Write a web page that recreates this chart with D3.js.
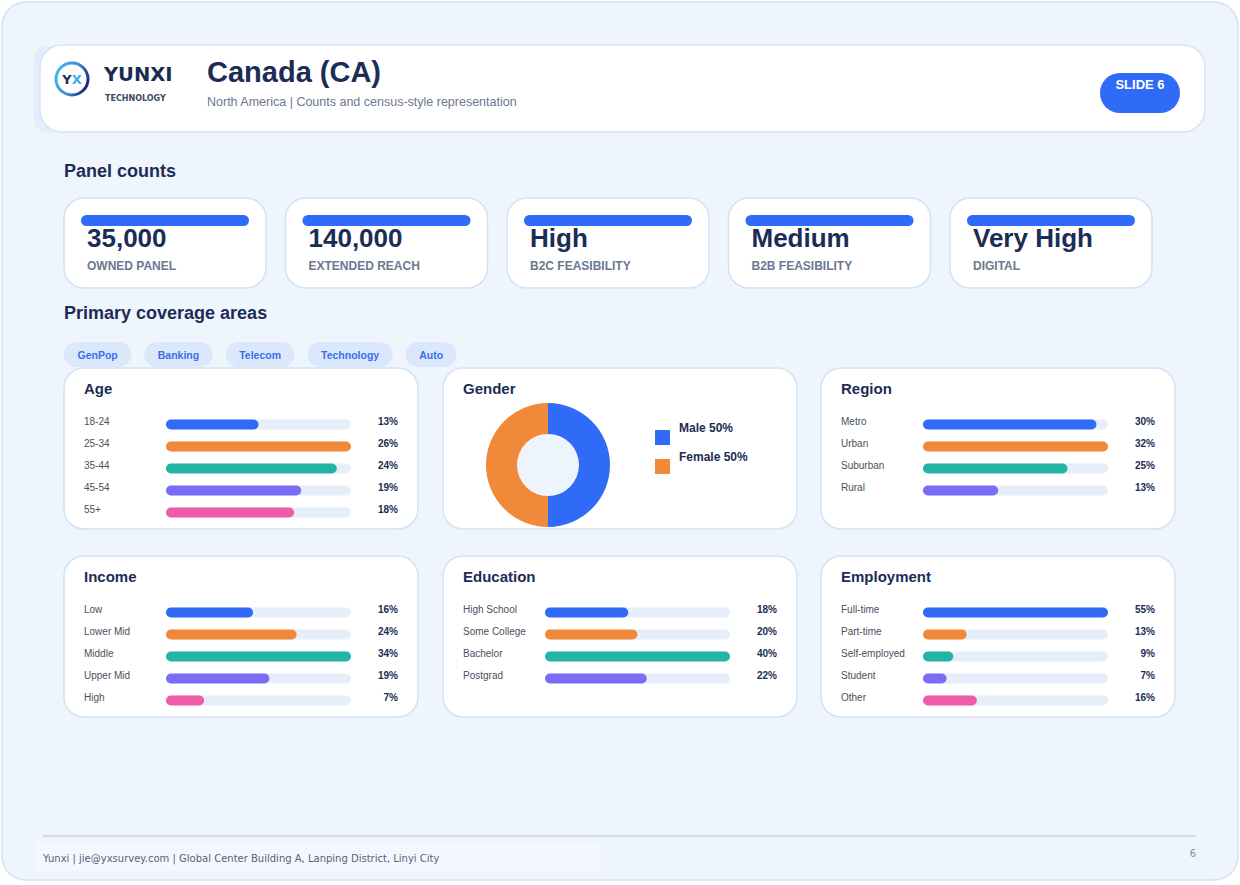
<!DOCTYPE html>
<html>
<head>
<meta charset="utf-8">
<script src="https://cdn.jsdelivr.net/npm/d3@7"></script>
<style>
  html, body { margin: 0; padding: 0; background: #ffffff; }
  svg { display: block; }
</style>
</head>
<body>
<script>
// data
var kpiValues = ["35,000", "140,000", "High", "Medium", "Very High"];
var kpiLabels = ["OWNED PANEL", "EXTENDED REACH", "B2C FEASIBILITY", "B2B FEASIBILITY", "DIGITAL"];
var coverageTags = ["GenPop", "Banking", "Telecom", "Technology", "Auto"];

var ageCategories = ["18-24", "25-34", "35-44", "45-54", "55+"];
var ageValues = [13, 26, 24, 19, 18];
var genderCategories = ["Male", "Female"];
var genderValues = [50, 50];
var regionCategories = ["Metro", "Urban", "Suburban", "Rural"];
var regionValues = [30, 32, 25, 13];
var incomeCategories = ["Low", "Lower Mid", "Middle", "Upper Mid", "High"];
var incomeValues = [16, 24, 34, 19, 7];
var educationCategories = ["High School", "Some College", "Bachelor", "Postgrad"];
var educationValues = [18, 20, 40, 22];
var employmentCategories = ["Full-time", "Part-time", "Self-employed", "Student", "Other"];
var employmentValues = [55, 13, 9, 7, 16];

// svg container
var width = 1240;
var height = 885;
var font = "'Liberation Sans', Arial, Helvetica, sans-serif";
var navy = "#1b2d55";
var palette = ["#2f6bf6", "#f08a3a", "#22b5a4", "#7a6cf7", "#ee5ba6"];

var svg = d3.select("body").append("svg")
    .attr("width", width)
    .attr("height", height)
    .style("font-family", font);

// page frame
svg.append("rect")
    .attr("width", width).attr("height", height)
    .attr("fill", "#ffffff");
svg.append("rect")
    .attr("x", 2).attr("y", 2)
    .attr("width", 1236).attr("height", 878)
    .attr("rx", 24)
    .attr("fill", "#eff5fd")
    .attr("stroke", "#d3e1f4")
    .attr("stroke-width", 1.5);

// header card
svg.append("rect")
    .attr("x", 34).attr("y", 46)
    .attr("width", 40).attr("height", 86)
    .attr("rx", 12)
    .attr("fill", "#e3edfb");
svg.append("rect")
    .attr("x", 40).attr("y", 45)
    .attr("width", 1165).attr("height", 87)
    .attr("rx", 22)
    .attr("fill", "#ffffff")
    .attr("stroke", "#d6e3f6")
    .attr("stroke-width", 1.5);

// logo
var defs = svg.append("defs");
var grad = defs.append("linearGradient")
    .attr("id", "ring")
    .attr("x1", "0%").attr("y1", "30%")
    .attr("x2", "100%").attr("y2", "70%");
grad.append("stop").attr("offset", "0%").attr("stop-color", "#3cb8f0");
grad.append("stop").attr("offset", "55%").attr("stop-color", "#3a8ad8");
grad.append("stop").attr("offset", "100%").attr("stop-color", "#1a2468");

var logo = svg.append("g").attr("transform", "translate(72,79)");
logo.append("circle")
    .attr("r", 16)
    .attr("fill", "none")
    .attr("stroke", "url(#ring)")
    .attr("stroke-width", 3);
var yx = logo.append("text")
    .attr("text-anchor", "middle")
    .attr("y", 5)
    .attr("font-size", 13)
    .attr("font-weight", "bold")
    .attr("font-family", "'DejaVu Sans', sans-serif");
yx.append("tspan").attr("fill", "#1c2a6a").text("Y");
yx.append("tspan").attr("fill", "#3cb0ee").text("X");
svg.append("text")
    .attr("x", 104).attr("y", 81)
    .attr("font-size", 19.5)
    .attr("font-weight", "bold")
    .attr("font-family", "'DejaVu Sans', sans-serif")
    .attr("fill", "#1a2b52")
    .text("YUNXI");
svg.append("text")
    .attr("x", 105).attr("y", 101)
    .attr("font-size", 8)
    .attr("font-weight", "bold")
    .attr("font-family", "'DejaVu Sans', sans-serif")
    .attr("fill", "#3b4a66")
    .text("TECHNOLOGY");

// title
svg.append("text")
    .attr("x", 207).attr("y", 82)
    .attr("font-size", 29)
    .attr("font-weight", "bold")
    .attr("fill", navy)
    .text("Canada (CA)");
svg.append("text")
    .attr("x", 207).attr("y", 106)
    .attr("font-size", 12.5)
    .attr("fill", "#6b7890")
    .text("North America | Counts and census-style representation");

// slide pill
svg.append("rect")
    .attr("x", 1100).attr("y", 73)
    .attr("width", 80).attr("height", 40)
    .attr("rx", 20)
    .attr("fill", "#2f6bf6");
svg.append("text")
    .attr("x", 1140).attr("y", 89)
    .attr("text-anchor", "middle")
    .attr("font-size", 13)
    .attr("font-weight", "bold")
    .attr("fill", "#ffffff")
    .text("SLIDE 6");

// section titles
svg.append("text")
    .attr("x", 64).attr("y", 177)
    .attr("font-size", 18).attr("font-weight", "bold")
    .attr("fill", navy)
    .text("Panel counts");
svg.append("text")
    .attr("x", 64).attr("y", 319)
    .attr("font-size", 18).attr("font-weight", "bold")
    .attr("fill", navy)
    .text("Primary coverage areas");

// kpi cards
var kpiX = d3.scaleBand()
    .domain(d3.range(kpiValues.length))
    .range([64, 1152])
    .paddingInner(0.088);

var kpi = svg.selectAll("g.kpi")
    .data(kpiValues)
    .enter()
    .append("g")
    .attr("class", "kpi")
    .attr("transform", (d, i) => `translate(${kpiX(i)}, 198)`);
kpi.append("rect")
    .attr("width", kpiX.bandwidth()).attr("height", 90)
    .attr("rx", 20)
    .attr("fill", "#ffffff")
    .attr("stroke", "#d4e2f5")
    .attr("stroke-width", 1.5);
kpi.append("rect")
    .attr("x", 17).attr("y", 17)
    .attr("width", kpiX.bandwidth() - 34).attr("height", 11)
    .attr("rx", 5.5)
    .attr("fill", "#2f6bf6");
kpi.append("text")
    .attr("x", 23).attr("y", 49)
    .attr("font-size", 26).attr("font-weight", "bold")
    .attr("fill", navy)
    .text(d => d);
kpi.append("text")
    .attr("x", 23).attr("y", 72)
    .attr("font-size", 12).attr("font-weight", "bold")
    .attr("fill", "#6b7890")
    .text((d, i) => kpiLabels[i]);

// coverage tags
var tagX = 64;
coverageTags.forEach(function (t) {
  var g = svg.append("g").attr("transform", `translate(${tagX}, 342)`);
  var txt = g.append("text")
      .attr("y", 16.5)
      .attr("font-size", 10.5).attr("font-weight", "bold")
      .attr("fill", "#3a6fe8")
      .text(t);
  var w = txt.node().getComputedTextLength() + 27;
  txt.attr("x", w / 2).attr("text-anchor", "middle");
  g.insert("rect", "text")
      .attr("width", w).attr("height", 25)
      .attr("rx", 12.5)
      .attr("fill", "#dbe8fb");
  tagX += w + 13;
});

// panel helper
var panelW = 354, panelH = 161;
function panel(x, y, title) {
  var g = svg.append("g").attr("transform", `translate(${x}, ${y})`);
  g.append("rect")
      .attr("width", panelW).attr("height", panelH)
      .attr("rx", 20)
      .attr("fill", "#ffffff")
      .attr("stroke", "#d4e2f5")
      .attr("stroke-width", 1.5);
  g.append("text")
      .attr("x", 20).attr("y", 26)
      .attr("font-size", 15).attr("font-weight", "bold")
      .attr("fill", navy)
      .text(title);
  return g;
}

function barPanel(x, y, title, cats, vals) {
  var g = panel(x, y, title);
  var xScale = d3.scaleLinear()
      .domain([0, d3.max(vals)])
      .range([0, 185]);
  var yScale = d3.scalePoint()
      .domain(cats)
      .range([56, 56 + 22 * (cats.length - 1)]);

  var rows = g.selectAll("g.row")
      .data(vals)
      .enter()
      .append("g")
      .attr("class", "row")
      .attr("transform", (d, i) => `translate(0, ${yScale(cats[i])})`);
  rows.append("text")
      .attr("x", 20).attr("y", 0.5)
      .attr("font-size", 10)
      .attr("fill", "#4a4f5c")
      .text((d, i) => cats[i]);
  rows.append("rect")
      .attr("x", 102).attr("y", -4.5)
      .attr("width", xScale.range()[1]).attr("height", 10)
      .attr("rx", 5)
      .attr("fill", "#e6eefa");
  rows.append("rect")
      .attr("x", 102).attr("y", -4.5)
      .attr("width", d => xScale(d)).attr("height", 10)
      .attr("rx", 5)
      .attr("fill", (d, i) => palette[i % palette.length]);
  rows.append("text")
      .attr("x", 334).attr("y", 0.5)
      .attr("text-anchor", "end")
      .attr("font-size", 10).attr("font-weight", "bold")
      .attr("fill", navy)
      .text(d => d + "%");
  return g;
}

barPanel(64, 368, "Age", ageCategories, ageValues);
barPanel(821, 368, "Region", regionCategories, regionValues);
barPanel(64, 556, "Income", incomeCategories, incomeValues);
barPanel(443, 556, "Education", educationCategories, educationValues);
barPanel(821, 556, "Employment", employmentCategories, employmentValues);

// gender donut
var gp = panel(443, 368, "Gender");
var pie = d3.pie().sort(null)(genderValues);
var arc = d3.arc().innerRadius(31).outerRadius(62);
var donut = gp.append("g").attr("transform", "translate(105, 97)");
donut.append("circle").attr("r", 31).attr("fill", "#eef4fc");
donut.selectAll("path")
    .data(pie)
    .enter()
    .append("path")
    .attr("d", arc)
    .attr("fill", (d, i) => palette[i]);

var legend = gp.selectAll("g.legend")
    .data(genderCategories)
    .enter()
    .append("g")
    .attr("class", "legend")
    .attr("transform", (d, i) => `translate(212, ${62 + i * 29})`);
legend.append("rect")
    .attr("width", 15).attr("height", 15)
    .attr("fill", (d, i) => palette[i]);
legend.append("text")
    .attr("x", 24).attr("y", 2)
    .attr("font-size", 12).attr("font-weight", "bold")
    .attr("fill", navy)
    .text((d, i) => d + " " + genderValues[i] + "%");

// footer
svg.append("line")
    .attr("x1", 43).attr("x2", 1196)
    .attr("y1", 836).attr("y2", 836)
    .attr("stroke", "#cfdcf0")
    .attr("stroke-width", 2);
svg.append("rect")
    .attr("x", 35).attr("y", 842)
    .attr("width", 566).attr("height", 29)
    .attr("fill", "#f4f8fe");
svg.append("text")
    .attr("x", 43).attr("y", 862)
    .attr("font-size", 10)
    .attr("font-family", "'DejaVu Sans', sans-serif")
    .attr("fill", "#56627a")
    .text("Yunxi | jie@yxsurvey.com | Global Center Building A, Lanping District, Linyi City");
svg.append("text")
    .attr("x", 1196).attr("y", 857)
    .attr("text-anchor", "end")
    .attr("font-size", 10)
    .attr("font-family", "'DejaVu Sans', sans-serif")
    .attr("fill", "#8a93a3")
    .text("6");
</script>
</body>
</html>
